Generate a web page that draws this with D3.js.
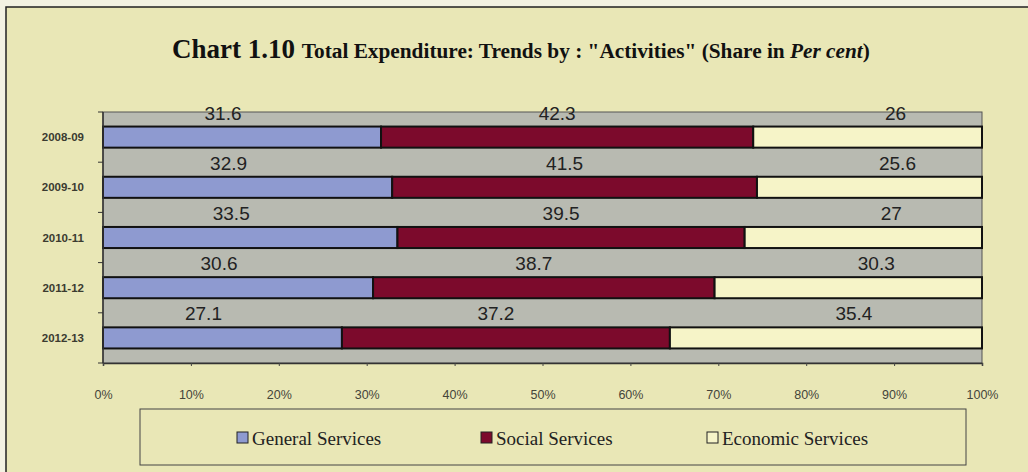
<!DOCTYPE html>
<html>
<head>
<meta charset="utf-8">
<script src="https://cdn.jsdelivr.net/npm/d3@7"></script>
<style>
  html, body { margin: 0; padding: 0; background: #f3f2e2; }
  svg { display: block; }
</style>
</head>
<body>
<svg id="chart" width="1028" height="472"></svg>
<script>
// Share of total expenditure by activity, per cent
const years = ["2008-09", "2009-10", "2010-11", "2011-12", "2012-13"];
const general = [31.6, 32.9, 33.5, 30.6, 27.1];
const social = [42.3, 41.5, 39.5, 38.7, 37.2];
const economic = [26, 25.6, 27, 30.3, 35.4];
const seriesNames = ["General Services", "Social Services", "Economic Services"];
const xTicks = [0, 10, 20, 30, 40, 50, 60, 70, 80, 90, 100];

const colors = ["#8e9ad0", "#7c0a2c", "#f6f4c8"];
const labelShift = [-19, -10, 28];

const svg = d3.select("#chart");
const W = 1028, H = 472;

// page background and frame (runs off the right and bottom edges)
svg.append("rect").attr("x", 6).attr("y", 7).attr("width", W + 20).attr("height", H + 20)
  .attr("fill", "#e9e7b6").attr("stroke", "#222").attr("stroke-width", 1.5);

// title
const title = svg.append("text").attr("x", 172).attr("y", 58)
  .attr("font-family", "'Liberation Serif', 'Times New Roman', serif")
  .attr("font-weight", "bold").attr("fill", "#111");
title.append("tspan").attr("font-size", 27).text("Chart 1.10 ");
title.append("tspan").attr("font-size", 21.3).text("Total Expenditure: Trends by : \"Activities\" (Share in ");
title.append("tspan").attr("font-size", 21.3).attr("font-style", "italic").text("Per cent");
title.append("tspan").attr("font-size", 21.3).text(")");

const plotL = 103, plotR = 982, plotT = 112, plotB = 363;

const x = d3.scaleLinear().domain([0, 100]).range([plotL, plotR]);
const y = d3.scaleBand().domain(years).range([plotT, plotB])
  .paddingInner(0.58).paddingOuter(0.29);
const yBand = d3.scaleBand().domain(years).range([plotT, plotB]).padding(0);

// plot area
svg.append("rect").attr("x", plotL).attr("y", plotT)
  .attr("width", plotR - plotL).attr("height", plotB - plotT)
  .attr("fill", "#b8bab1").attr("stroke", "#555").attr("stroke-width", 1);

// 100% stacked rows: each year's shares are scaled to fill the full width
const rows = years.map((yr, i) => {
  const vals = [general[i], social[i], economic[i]];
  const total = d3.sum(vals);
  let acc = 0;
  return vals.map((v, k) => {
    const seg = { year: yr, k, v, x0: acc / total * 100, x1: (acc + v) / total * 100 };
    acc += v;
    return seg;
  });
});
const segs = rows.flat();

svg.append("g").selectAll("rect").data(segs).join("rect")
  .attr("x", d => x(d.x0))
  .attr("y", d => y(d.year))
  .attr("width", d => x(d.x1) - x(d.x0))
  .attr("height", y.bandwidth())
  .attr("fill", d => colors[d.k])
  .attr("stroke", "#111").attr("stroke-width", 2);

// value labels above each segment
svg.append("g").selectAll("text").data(segs).join("text")
  .attr("x", d => x((d.x0 + d.x1) / 2) + labelShift[d.k])
  .attr("y", d => y(d.year) - 7)
  .attr("text-anchor", "middle")
  .attr("font-family", "'Liberation Sans', Arial, sans-serif")
  .attr("font-size", 19).attr("fill", "#222")
  .text(d => d.v);

// y axis
const yAxisG = svg.append("g").attr("transform", `translate(${plotL},0)`);
yAxisG.append("line").attr("x1", 0).attr("x2", 0).attr("y1", plotT).attr("y2", plotB)
  .attr("stroke", "#333").attr("stroke-width", 1.5);
yAxisG.selectAll("line.tk").data(d3.range(years.length + 1)).join("line")
  .attr("class", "tk")
  .attr("x1", -5).attr("x2", 0)
  .attr("y1", i => plotT + i * yBand.step()).attr("y2", i => plotT + i * yBand.step())
  .attr("stroke", "#333");
yAxisG.selectAll("text").data(years).join("text")
  .attr("x", -19).attr("y", d => y(d) + y.bandwidth() / 2)
  .attr("dy", "0.35em").attr("text-anchor", "end")
  .attr("font-family", "'Liberation Sans', Arial, sans-serif")
  .attr("font-size", 11.5).attr("font-weight", "bold").attr("fill", "#3b3b30")
  .text(d => d);

// x axis
const xAxis = d3.axisBottom(x).tickValues(xTicks).tickSize(3).tickPadding(24)
  .tickFormat(d => d + "%");
const gx = svg.append("g").attr("transform", `translate(0,${plotB})`).call(xAxis);
gx.select(".domain").attr("stroke", "#333").attr("stroke-width", 1.5);
gx.selectAll(".tick line").attr("stroke", "#444");
gx.selectAll(".tick text")
  .attr("font-family", "'Liberation Sans', Arial, sans-serif")
  .attr("font-size", 12.5).attr("fill", "#44443a");

// legend
svg.append("rect").attr("x", 140).attr("y", 409).attr("width", 826).attr("height", 56)
  .attr("fill", "none").attr("stroke", "#444").attr("stroke-width", 1);
const legendX = [237, 481, 707];
const lg = svg.append("g").selectAll("g").data(seriesNames).join("g")
  .attr("transform", (d, i) => `translate(${legendX[i]},438)`);
lg.append("rect").attr("x", 0).attr("y", -6).attr("width", 11).attr("height", 11)
  .attr("fill", (d, i) => colors[i]).attr("stroke", "#222").attr("stroke-width", 1);
lg.append("text").attr("x", 15).attr("y", 0).attr("dy", "0.35em")
  .attr("font-family", "'Liberation Serif', 'Times New Roman', serif")
  .attr("font-size", 19).attr("fill", "#222")
  .text(d => d);
</script>
</body>
</html>
